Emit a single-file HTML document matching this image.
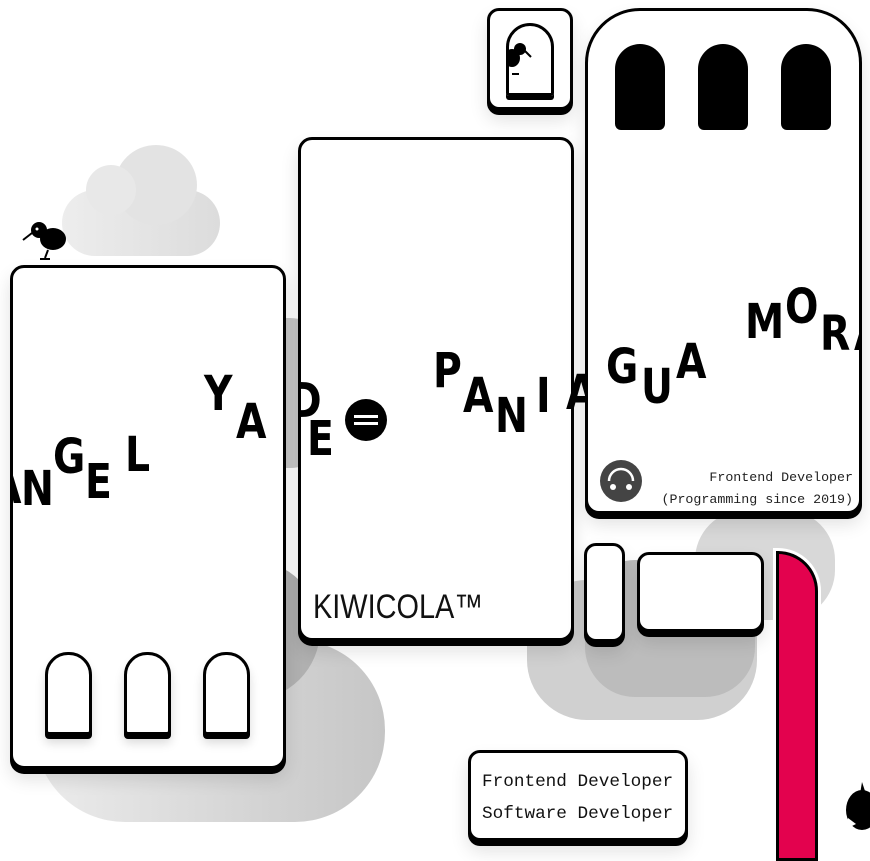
<!DOCTYPE html>
<html><head><meta charset="utf-8">
<style>
*{margin:0;padding:0;box-sizing:border-box}
body{width:870px;height:852px;overflow:hidden;background:#fff;position:relative;font-family:"Liberation Sans",sans-serif}
.abs{position:absolute}
.card{position:absolute;background:#fff;border:3px solid #000;box-shadow:0 5px 0 #000,0 10px 18px rgba(0,0,0,.12);overflow:hidden}
.cloud{position:absolute;background:linear-gradient(90deg,#d8d8d8,#c4c4c4)}
.L{position:absolute;font-family:"DejaVu Sans","Liberation Sans",sans-serif;font-weight:bold;font-size:48px;line-height:1;color:#000;transform:scaleX(.82);transform-origin:left top}
.arch-w{position:absolute;width:47px;height:83px;border:3px solid #000;border-radius:23px 23px 4px 4px;background:#fff;box-shadow:0 4px 0 #000,0 8px 10px rgba(0,0,0,.15)}
.arch-b{position:absolute;width:50px;height:86px;background:#000;border-radius:25px 25px 6px 6px}
.mono{font-family:"Liberation Mono",monospace;color:#222}
</style></head><body>

<!-- clouds -->
<div class="cloud" style="left:62px;top:190px;width:158px;height:66px;border-radius:33px;background:linear-gradient(90deg,#ededed,#dcdcdc)"></div>
<div class="cloud" style="left:115px;top:145px;width:82px;height:80px;border-radius:50%;background:#e3e3e3"></div>
<div class="cloud" style="left:86px;top:165px;width:50px;height:50px;border-radius:50%;background:#e8e8e8"></div>
<div class="cloud" style="left:180px;top:318px;width:150px;height:150px;border-radius:40px;background:#c8c8c8"></div>
<div class="cloud" style="left:35px;top:640px;width:350px;height:182px;border-radius:90px;background:linear-gradient(90deg,#ececec,#c6c6c6)"></div>
<div class="cloud" style="left:180px;top:560px;width:140px;height:140px;border-radius:50%;background:#b0b0b0"></div>
<div class="cloud" style="left:527px;top:580px;width:230px;height:140px;border-radius:60px;background:#d0d0d0"></div>
<div class="cloud" style="left:585px;top:560px;width:170px;height:137px;border-radius:50px;background:#bcbcbc"></div>
<div class="cloud" style="left:695px;top:510px;width:140px;height:110px;border-radius:50px;background:#d8d8d8"></div>

<!-- kiwi top-left -->
<svg class="abs" style="left:20px;top:218px" width="50" height="46" viewBox="0 0 50 46">
<ellipse cx="33" cy="21" rx="13" ry="11" fill="#000"/><circle cx="19" cy="12" r="8" fill="#000"/>
<line x1="12" y1="15" x2="3" y2="22" stroke="#000" stroke-width="2"/><line x1="28" y1="32" x2="25" y2="40" stroke="#000" stroke-width="2"/><line x1="20" y1="41" x2="30" y2="41" stroke="#000" stroke-width="2"/>
<circle cx="17" cy="11" r="1.5" fill="#fff"/></svg>

<!-- left card -->
<div class="card" style="left:10px;top:265px;width:276px;height:504px;border-radius:14px">
  <span class="L" style="left:-22px;top:195px">A</span>
  <span class="L" style="left:8px;top:197px">N</span>
  <span class="L" style="left:40px;top:165px">G</span>
  <span class="L" style="left:72px;top:190px">E</span>
  <span class="L" style="left:112px;top:163px">L</span>
  <span class="L" style="left:191px;top:102px">Y</span>
  <span class="L" style="left:223px;top:130px">A</span>
  <div class="arch-w" style="left:32px;top:384px"></div>
  <div class="arch-w" style="left:111px;top:384px"></div>
  <div class="arch-w" style="left:190px;top:384px"></div>
</div>

<!-- middle card -->
<div class="card" style="left:298px;top:137px;width:276px;height:504px;border-radius:14px">
  <span class="L" style="left:-12px;top:237px">D</span>
  <span class="L" style="left:6px;top:275px">E</span>
  <svg class="abs" style="left:43px;top:258px" width="44" height="44"><circle cx="22" cy="22" r="21" fill="#000"/><rect x="10" y="17" width="24" height="3" fill="#fff"/><rect x="10" y="24" width="24" height="3" fill="#fff"/></svg>
  <span class="L" style="left:132px;top:207px">P</span>
  <span class="L" style="left:162px;top:232px">A</span>
  <span class="L" style="left:194px;top:252px">N</span>
  <span class="L" style="left:235px;top:232px">I</span>
  <div class="abs" style="left:12px;top:448px;font-family:'Liberation Sans Narrow','Liberation Sans',sans-serif;font-size:34px;color:#111;transform:scaleX(.85);transform-origin:left top;white-space:nowrap">KIWICOLA™</div>
</div>
<span class="L" style="left:566px;top:369px">A</span>

<!-- top small card -->
<div class="card" style="left:487px;top:8px;width:86px;height:102px;border-radius:12px">
  <div class="abs" style="left:16px;top:12px;width:48px;height:73px;border:3px solid #000;border-radius:24px 24px 3px 3px;box-shadow:0 4px 0 #000;overflow:hidden">
    <svg width="44" height="70"><ellipse cx="3" cy="32" rx="8" ry="9" fill="#000"/><circle cx="11" cy="23" r="6" fill="#000"/><line x1="16" y1="25" x2="22" y2="31" stroke="#000" stroke-width="2"/><line x1="3" y1="48" x2="10" y2="48" stroke="#000" stroke-width="2"/></svg>
  </div>
</div>

<!-- right card -->
<div class="card" style="left:585px;top:8px;width:277px;height:506px;border-radius:55px 55px 14px 14px">
  <div class="arch-b" style="left:27px;top:33px"></div>
  <div class="arch-b" style="left:110px;top:33px"></div>
  <div class="arch-b" style="left:193px;top:33px"></div>
  <span class="L" style="left:18px;top:332px">G</span>
  <span class="L" style="left:53px;top:352px">U</span>
  <span class="L" style="left:88px;top:327px">A</span>
  <span class="L" style="left:157px;top:287px">M</span>
  <span class="L" style="left:197px;top:272px">O</span>
  <span class="L" style="left:232px;top:299px">R</span>
  <span class="L" style="left:266px;top:299px">A</span>
  <svg class="abs" style="left:11px;top:448px" width="44" height="44"><circle cx="22" cy="22" r="21" fill="#444"/><path d="M10 22 A12 12 0 0 1 34 22" stroke="#fff" stroke-width="2.5" fill="none"/><circle cx="14" cy="28" r="3" fill="#fff"/><circle cx="30" cy="28" r="3" fill="#fff"/></svg>
  <div class="abs mono" style="right:6px;top:456px;font-size:13.3px;text-align:right;line-height:22px;white-space:nowrap">Frontend Developer<br>(Programming since 2019)</div>
</div>

<!-- small shapes -->
<div class="card" style="left:584px;top:543px;width:41px;height:99px;border-radius:12px"></div>
<div class="card" style="left:637px;top:552px;width:127px;height:80px;border-radius:12px"></div>
<div class="abs" style="left:776px;top:551px;width:42px;height:310px;background:#e3024e;border:3px solid #000;border-radius:0 40px 0 0;box-shadow:0 0 0 3px #fff"></div>

<!-- bottom text card -->
<div class="card" style="left:468px;top:750px;width:220px;height:91px;border-radius:12px">
  <div class="abs mono" style="left:11px;top:13px;font-size:17.7px;line-height:32px;color:#111;white-space:nowrap">Frontend Developer<br>Software Developer</div>
</div>

<!-- kiwi bottom-right -->
<svg class="abs" style="left:840px;top:780px" width="30" height="52"><ellipse cx="22" cy="30" rx="16" ry="20" fill="#000"/><path d="M22 2 L26 14 L20 14Z" fill="#000"/><path d="M8 38 L16 44 L8 48Z" fill="#fff"/></svg>

</body></html>
